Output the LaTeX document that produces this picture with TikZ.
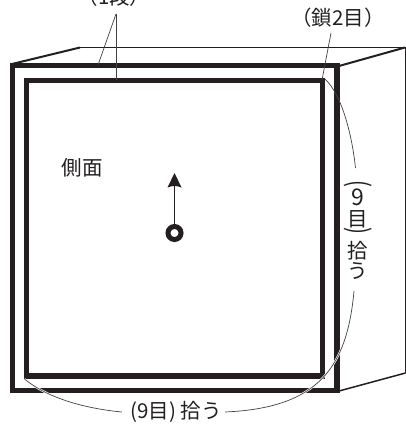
\documentclass[tikz,border=0pt]{standalone}
\usepackage{graphicx}
\usepackage{fontspec}
\newfontfamily\cjk{Noto Sans CJK JP}
\definecolor{ink}{HTML}{231F20}
\tikzset{
  x=1pt,y=-1pt,
  lab/.style={font=\cjk\fontsize{20.5}{20.5}\selectfont,text=ink,inner sep=0pt},
  bigdigit/.style={font=\cjk\fontsize{23}{23}\selectfont,text=ink,inner sep=0pt},
  thickframe/.style={draw=ink,line width=5.5pt,miter limit=10},
  boxedge/.style={draw=ink,line width=1pt,line join=miter},
  boxedgeheavy/.style={draw=ink,line width=2pt},
  lead/.style={draw=ink!85,line width=0.7pt},
  halo/.style={draw=white,line width=2pt},
}
\begin{document}
\begin{tikzpicture}
\useasboundingbox (0,0) rectangle (406,425);
% box behind
\draw[boxedge] (405.5,47.5) -- (405.5,373);
\draw[boxedge,line width=1.5pt] (405.5,373) -- (339,391);
\draw[boxedge,line width=1.8pt] (80,47.5) -- (405.5,47.5);
\draw[boxedgeheavy] (339,66) -- (405,47.5);
\draw[boxedgeheavy] (12,64) -- (80,47.5);
% frames
\draw[thickframe] (12.5,65.5) rectangle (337,390.5);
\draw[thickframe] (26.5,80.5) rectangle (322.5,376);
% labels
\node[lab] (danlabel) at (114,-3) {（1段）};
\node[lab] (chain) at (338,18) {（鎖2目）};
\node[lab,anchor=west] (side) at (61.5,168) {側面};
\node[lab] (bottomlabel) at (176,412) {(9目) 拾う};
\node[lab,rotate=-90] (vp1) at (358,183.5) {\scalebox{1}[1.35]{(}};
\node[bigdigit] (v9) at (358,197) {9};
\node[lab] (vmoku) at (358,219) {目};
\node[lab,rotate=-90] (vp2) at (358,231) {\scalebox{1}[1.35]{)}};
\node[lab] (vhiro) at (358,251) {拾};
\node[lab] (vu) at (358,271) {う};
\coordinate (apex) at (116,14);
\coordinate (danA) at (98,65);
\coordinate (danB) at (116,80);
\coordinate (chainTop) at (331,33);
\coordinate (chainEnd) at (322,80);
% leaders
\draw[lead] (apex) -- (danA);
\draw[lead] (apex) -- (danB);
\draw[lead] (chainTop) -- (chainEnd);
\coordinate (rs) at (325,79);
\coordinate (re) at (355.5,168);
\draw[lead] (rs) .. controls (342,95) and (352,135) .. (re);
\coordinate (ls) at (24.5,379);
\coordinate (le) at (122,412);
\coordinate (bs) at (354,291);
\coordinate (be) at (225,412);
\draw[halo] (ls) .. controls (50,400) and (90,409) .. (le);
\draw[lead] (ls) .. controls (50,400) and (90,409) .. (le);
\draw[halo] (bs) .. controls (347,368) and (318,408) .. (be);
\draw[lead] (bs) .. controls (347,368) and (318,408) .. (be);
% ring and arrow
\node[circle,draw=ink,line width=5pt,minimum size=13pt,inner sep=0pt] (ring) at (174.5,233) {};
\coordinate (tip) at (174.5,173);
\draw[ink,line width=1.2pt] (ring) -- (174.5,185);
\path[fill=ink] (tip) -- (181.5,187.5) .. controls (177,185.5) and (172,185.5) .. (167.5,187.5) -- cycle;
\end{tikzpicture}
\end{document}
